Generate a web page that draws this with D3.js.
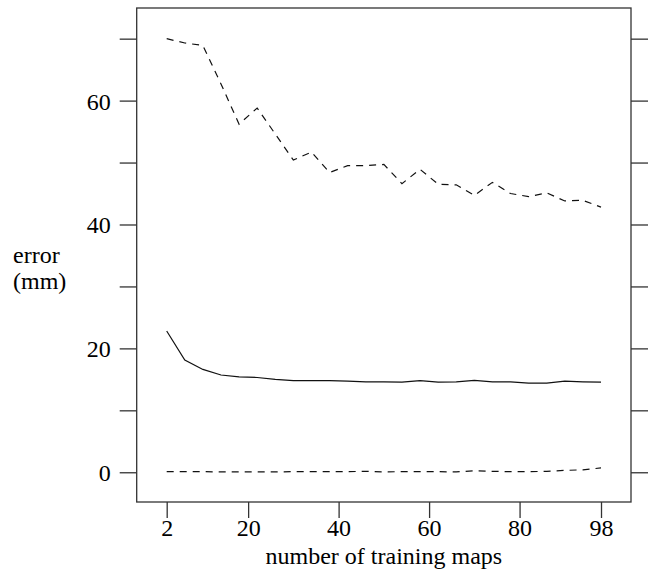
<!DOCTYPE html>
<html><head><meta charset="utf-8">
<script src="https://cdn.jsdelivr.net/npm/d3@7"></script>
</head><body>
<svg id="chart" width="648" height="580"></svg>
<script>
const trainingMaps = [2,6,10,14,18,22,26,30,34,38,42,46,50,54,58,62,66,70,74,78,82,86,90,94,98];
const errorUpper = [70.0,69.3,68.9,62.7,56.2,58.8,54.6,50.4,51.7,48.4,49.5,49.5,49.7,46.6,48.9,46.5,46.4,44.7,46.8,45.0,44.5,45.1,43.8,43.9,42.8];
const errorMean  = [22.8,18.1,16.6,15.7,15.4,15.3,15.0,14.8,14.8,14.8,14.7,14.6,14.6,14.55,14.8,14.55,14.6,14.85,14.6,14.6,14.4,14.4,14.7,14.6,14.55];
const errorLower = [0.1,0.1,0.1,0.05,0.05,0.05,0.05,0.1,0.1,0.1,0.1,0.15,0.05,0.1,0.1,0.1,0.05,0.25,0.15,0.1,0.1,0.15,0.3,0.4,0.7];
const yTickValues = [0,10,20,30,40,50,60,70];
const yTickLabels = ["0","","20","","40","","60",""];
const xTickValues = [2,20,40,60,80,98];
const xTickLabels = ["2","20","40","60","80","98"];
const xTitle = "number of training maps";
const yTitle = ["error","(mm)"];

document.body.style.margin = "0";
document.getElementById("chart").style.display = "block";

const FONT = "Liberation Serif";
const box = {left:136.7, right:631, top:8, bottom:502};
const svg = d3.select("#chart");

const x = d3.scaleLinear().domain([-4.63, 104.63]).range([box.left, box.right]);
const y = d3.scaleLinear().domain([-4.8, 74.95]).range([box.bottom, box.top]);

svg.append("rect").attr("x", box.left).attr("y", box.top)
  .attr("width", box.right - box.left).attr("height", box.bottom - box.top)
  .attr("fill", "none").attr("stroke", "#333").attr("stroke-width", 1.3);

function styleAxis(g){
  g.attr("font-family", FONT).attr("font-size", 24);
  g.select(".domain").remove();
  g.selectAll(".tick line").attr("stroke", "#333").attr("stroke-width", 1.3);
  g.selectAll(".tick text").attr("fill", "#000");
}

const yLabelMap = new Map(yTickValues.map((v,i)=>[v, yTickLabels[i]]));
svg.append("g").attr("transform", `translate(${box.left},0)`)
  .call(d3.axisLeft(y).tickValues(yTickValues).tickSize(17).tickPadding(9)
        .tickFormat(d => yLabelMap.get(d)))
  .call(styleAxis)
  .selectAll(".tick text").attr("dy", "0.35em");

svg.append("g").attr("transform", `translate(${box.right},0)`)
  .call(d3.axisRight(y).tickValues(yTickValues).tickSize(17).tickFormat(() => ""))
  .call(styleAxis);

const xLabelMap = new Map(xTickValues.map((v,i)=>[v, xTickLabels[i]]));
svg.append("g").attr("transform", `translate(0,${box.bottom})`)
  .call(d3.axisBottom(x).tickValues(xTickValues).tickSize(16).tickPadding(1)
        .tickFormat(d => xLabelMap.get(d)))
  .call(styleAxis);

svg.append("text").attr("x", (x(2)+x(98))/2).attr("y", 564)
  .attr("text-anchor", "middle").attr("font-family", FONT).attr("font-size", 24)
  .attr("fill", "#000")
  .text(xTitle);
svg.append("text").attr("x", 13).attr("y", 263)
  .attr("font-family", FONT).attr("font-size", 24).attr("fill", "#000").text(yTitle[0]);
svg.append("text").attr("x", 13).attr("y", 289)
  .attr("font-family", FONT).attr("font-size", 24).attr("fill", "#000").text(yTitle[1]);

const line = d3.line().x((d,i) => x(trainingMaps[i])).y(d => y(d));
const series = [
  {values: errorUpper, dash: "7,6"},
  {values: errorMean, dash: null},
  {values: errorLower, dash: "7,6"}
];
svg.append("g").selectAll("path").data(series).join("path")
  .attr("d", s => line(s.values))
  .attr("fill", "none").attr("stroke", "#111").attr("stroke-width", 1.2)
  .attr("stroke-dasharray", s => s.dash);
</script>
</body></html>
